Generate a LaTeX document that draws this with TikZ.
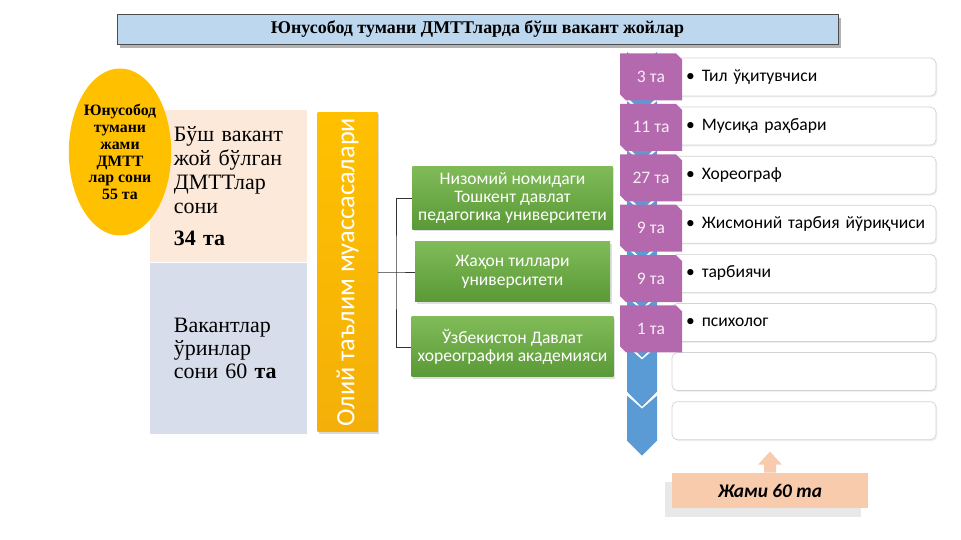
\documentclass[tikz,border=0pt]{standalone}
\usepackage{fontspec}
\setmainfont{Liberation Serif}
\newfontfamily\calib{Carlito}
\usetikzlibrary{positioning,shapes.geometric,shadows}

\definecolor{barblue}{RGB}{189,215,238}
\definecolor{gold}{RGB}{255,192,0}
\definecolor{goldtwo}{RGB}{244,176,8}
\definecolor{peach}{RGB}{252,233,217}
\definecolor{greyblue}{RGB}{215,221,235}
\definecolor{greentop}{RGB}{128,187,88}
\definecolor{greenbot}{RGB}{90,153,55}
\definecolor{orchid}{RGB}{180,104,174}
\definecolor{chevblue}{RGB}{91,155,213}
\definecolor{salmon}{RGB}{248,203,173}

\tikzset{
  unibox/.style={top color=greentop, bottom color=greenbot, minimum width=195*0.02cm, minimum height=60*0.02cm,
    align=center, text=white, font=\calib\fontsize{10}{10.5}\selectfont,
    drop shadow={opacity=0.25,shadow xshift=1pt,shadow yshift=-1pt}},
  listbox/.style={draw=gray!35, fill=white, rounded corners=3pt, minimum width=264*0.02cm, minimum height=38*0.02cm,
    text width=236*0.02cm, inner xsep=0pt, align=left, font=\calib\fontsize{10}{12}\selectfont,
    drop shadow={opacity=0.12,shadow xshift=0.8pt,shadow yshift=-0.8pt}},
  tagtext/.style={text=white!88!orchid, font=\calib\fontsize{10}{12}\selectfont},
  linkline/.style={thin, gray!40!black}
}

\begin{document}
\begin{tikzpicture}[x=0.02cm,y=-0.02cm]
\useasboundingbox (0,0) rectangle (961,540);

%title bar
\node[draw=gray!60!black, fill=barblue, minimum width=721*0.02cm, minimum height=30*0.02cm,
  drop shadow={shadow xshift=1.5pt,shadow yshift=-2pt,opacity=0.6},
  font=\bfseries\fontsize{10.2}{12}\selectfont] (title) at (477.5,29) {Юнусобод тумани ДМТТларда бўш вакант жойлар};

%the two count boxes
\node[fill=peach, anchor=north west, minimum width=157*0.02cm, minimum height=152*0.02cm, text width=110*0.02cm,
  inner xsep=0pt, align=left, font=\fontsize{12.5}{13.5}\selectfont] (free) at (150,110)
  {Бўш вакант\\жой бўлган\\ДМТТлар\\сони\\[5pt]\textbf{34 та}};
\node[fill=greyblue, below=0pt of free, minimum width=157*0.02cm, minimum height=171*0.02cm, text width=110*0.02cm,
  inner xsep=0pt, align=left, font=\fontsize{12.5}{13}\selectfont] (vacant)
  {Вакантлар\\ўринлар\\сони 60 \textbf{та}};

%yellow oval on the left
\node[ellipse, fill=gold, minimum width=102*0.02cm, minimum height=167*0.02cm, inner sep=0pt, align=center,
  font=\bfseries\fontsize{9}{9.6}\selectfont] (total) at (120,152) {Юнусобод\\тумани\\жами\\ДМТТ\\лар сони\\55 та};

%orange upright bar
\node[rotate=90, top color=gold, bottom color=goldtwo, minimum width=310*0.02cm, minimum height=60*0.02cm,
  text=white, font=\calib\fontsize{15}{17}\selectfont,
  drop shadow={opacity=0.3,shadow xshift=1pt,shadow yshift=-1pt}] (oliy) at (347.5,272) {Олий таълим муассасалари};

%green boxes
\foreach \i/\y/\txt in {1/198/{Низомий номидаги\\Тошкент давлат\\педагогика университети},
                       2/272/{Жаҳон тиллари\\университети},
                       3/347/{Ўзбекистон Давлат\\хореография академияси}}
  \node[unibox] (uni\i) at (512.5,\y) {\txt};

%lines from the bar to the green boxes
\coordinate (fork) at (396,272);
\draw[linkline] (oliy.south) -- (fork) -- (uni2.west);
\draw[linkline] (uni1.west) -| (fork) |- (uni3.west);

%white list rows
\foreach \i/\txt in {1/Тил ўқитувчиси,2/Мусиқа раҳбари,3/Хореограф,4/Жисмоний тарбия йўриқчиси,5/тарбиячи,6/психолог}
  \node[listbox] (row\i) at (804,{77+49.1*(\i-1)}) {\mbox{•\hspace{4pt}\txt}};
\foreach \i in {7,8}
  \node[listbox] (row\i) at (804,{77+49.1*(\i-1)}) {};

%blue chevrons behind the tags
\foreach \i in {1,...,8}
  \fill[chevblue] (627,{52+49.1*(\i-1)}) -- ++(15,13) -- ++(15,-13) -- ++(0,45) -- ++(-15,15) -- ++(-15,-15) -- cycle;

%purple tags with the numbers
\foreach \i/\n in {1/3,2/11,3/27,4/9,5/9,6/1}{
  \fill[orchid] (620,{77+50.4*(\i-1)-23.5}) -- ++(56,0) -- ++(6,6) -- ++(0,41) -- ++(-56,0) -- ++(-6,-6) -- cycle;
  \node[tagtext] (tag\i) at (651,{77+50.4*(\i-1)}) {\n\ та};
}

%total box with its arrow
\node[fill=salmon, minimum width=196*0.02cm, minimum height=35*0.02cm,
  font=\calib\bfseries\itshape\fontsize{11}{13}\selectfont,
  drop shadow={shadow xshift=-4pt,shadow yshift=-5pt,opacity=0.18}] (sum) at (770,490.5) {Жами 60 та};
\fill[salmon] (sum.north) ++(-6,0) -- ++(0,-8) -- ++(-6,0) -- ++(12,-13) -- ++(12,13) -- ++(-6,0) -- ++(0,8) -- cycle;

\end{tikzpicture}
\end{document}
